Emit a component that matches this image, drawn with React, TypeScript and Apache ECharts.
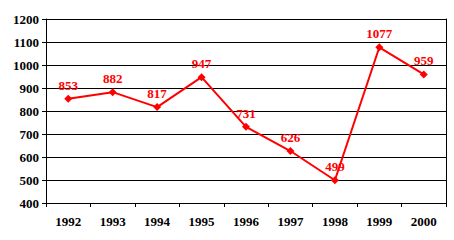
import React, { useEffect, useRef } from "react";
import * as echarts from "echarts";

const years = ["1992", "1993", "1994", "1995", "1996", "1997", "1998", "1999", "2000"];
const values = [853, 882, 817, 947, 731, 626, 499, 1077, 959];

const FONT = "'Liberation Serif', 'Times New Roman', serif";

export default function App() {
  const ref = useRef<HTMLDivElement>(null);
  useEffect(() => {
    if (!ref.current) return;
    const chart = echarts.init(ref.current, null, { renderer: "svg" });
    chart.setOption({
      animation: false,
      backgroundColor: "#ffffff",
      grid: { left: 46, right: 8, top: 19, bottom: 37, containLabel: false },
      xAxis: {
        type: "category",
        data: years,
        boundaryGap: true,
        axisLine: { show: true, lineStyle: { color: "#000", width: 1 } },
        axisTick: { show: true, length: 4, inside: false, alignWithLabel: false, lineStyle: { color: "#000" } },
        axisLabel: { color: "#000", fontFamily: FONT, fontWeight: "bold", fontSize: 13, margin: 12 },
        splitLine: { show: false },
      },
      yAxis: [
        {
          type: "value",
          min: 400,
          max: 1200,
          interval: 100,
          axisLine: { show: true, lineStyle: { color: "#000", width: 1 } },
          axisTick: { show: true, length: 4, lineStyle: { color: "#000" } },
          axisLabel: {
            color: "#000",
            fontFamily: FONT,
            fontWeight: "bold",
            fontSize: 13,
            margin: 7,
            formatter: (v: number) => String(v),
          },
          splitLine: { show: true, lineStyle: { color: "#000", width: 1 } },
        },
        {
          type: "value",
          position: "right",
          min: 400,
          max: 1200,
          interval: 100,
          axisLine: { show: true, lineStyle: { color: "#000", width: 1 } },
          axisTick: { show: false },
          axisLabel: { show: false },
          splitLine: { show: false },
        },
      ],
      series: [
        {
          type: "line",
          data: values,
          yAxisIndex: 0,
          symbol: "diamond",
          symbolSize: 8,
          lineStyle: { color: "#ff0000", width: 2 },
          itemStyle: { color: "#ff0000" },
          label: {
            show: true,
            position: "top",
            distance: 3,
            color: "#ff0000",
            fontFamily: FONT,
            fontWeight: "bold",
            fontSize: 13,
          },
        },
      ],
    });
    return () => chart.dispose();
  }, []);
  return <div ref={ref} style={{ width: 454, height: 240, position: "absolute", left: 0, top: 0 }} />;
}
